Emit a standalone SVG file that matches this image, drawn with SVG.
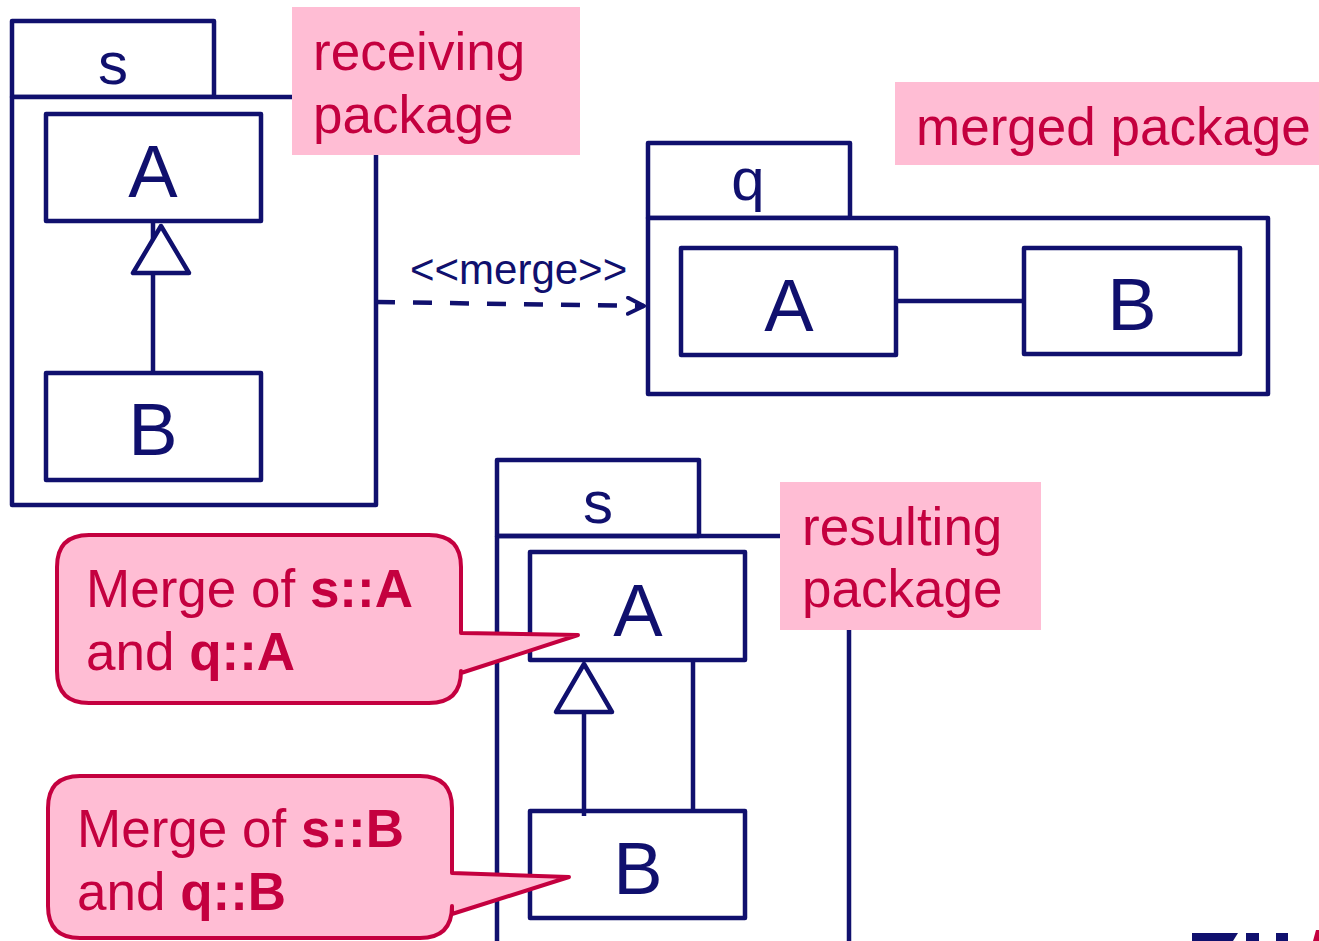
<svg xmlns="http://www.w3.org/2000/svg" width="1319" height="941" viewBox="0 0 1319 941">
  <style>
    .ln { fill: none; stroke: #10106E; stroke-width: 4.5; stroke-linejoin: round; }
    .box { fill: #FFFFFF; stroke: #10106E; stroke-width: 4.5; stroke-linejoin: round; }
    .big { font-family: "Liberation Sans", Arial, sans-serif; font-size: 74px; fill: #10106E; text-anchor: middle; }
    .pkg { font-family: "Liberation Sans", Arial, sans-serif; font-size: 60px; fill: #10106E; text-anchor: middle; }
    .note { fill: #FFBDD4; }
    .ntxt { font-family: "Liberation Sans", Arial, sans-serif; font-size: 53px; fill: #C4003F; }
    .call { fill: #FFBDD4; stroke: #C4003F; stroke-width: 4; stroke-linejoin: round; }
    .lbl { font-family: "Liberation Sans", Arial, sans-serif; font-size: 42px; fill: #10106E; }
  </style>
  <defs>
    <marker id="open" viewBox="0 0 20 20" refX="18" refY="10" markerWidth="20" markerHeight="20" markerUnits="userSpaceOnUse" orient="auto">
      <path d="M2,2 L18,10 L2,18" fill="none" stroke="#10106E" stroke-width="4" stroke-linecap="round" stroke-linejoin="round"/>
    </marker>
  </defs>

  <rect width="1319" height="941" fill="#FFFFFF"/>

  <!-- receiving package s -->
  <g id="pkg-s-receiving">
    <rect class="box" x="12" y="21" width="202" height="76"/>
    <rect class="box" x="12" y="97" width="364" height="408"/>
    <text class="pkg" x="113" y="84">s</text>
  </g>
  <g id="s-A">
    <rect class="box" x="46" y="114" width="215" height="107"/>
    <text class="big" x="153" y="197">A</text>
  </g>
  <g id="s-B">
    <rect class="box" x="46" y="373" width="215" height="107"/>
    <text class="big" x="153" y="455">B</text>
  </g>

  <!-- merged package q -->
  <g id="pkg-q">
    <rect class="box" x="648" y="143" width="202" height="75"/>
    <rect class="box" x="648" y="218" width="620" height="176"/>
    <text class="pkg" x="748" y="200">q</text>
  </g>
  <g id="q-A">
    <rect class="box" x="681" y="248" width="215" height="107"/>
    <text class="big" x="789" y="331">A</text>
  </g>
  <g id="q-B">
    <rect class="box" x="1024" y="248" width="216" height="106"/>
    <text class="big" x="1132" y="330">B</text>
  </g>

  <!-- resulting package s -->
  <g id="pkg-s-result">
    <rect class="box" x="497" y="460" width="202" height="76"/>
    <path class="ln" d="M497,536 V945 M497,536 H849 V945"/>
    <text class="pkg" x="598" y="523">s</text>
  </g>
  <g id="r-A">
    <rect class="box" x="530" y="552" width="215" height="108"/>
    <text class="big" x="638" y="636">A</text>
  </g>
  <g id="r-B">
    <rect class="box" x="530" y="811" width="215" height="107"/>
    <text class="big" x="638" y="894">B</text>
  </g>

  <!-- connectors -->
  <g id="connectors">
    <!-- s::B specialises s::A -->
    <line class="ln" x1="153" y1="221" x2="153" y2="373"/>
    <polygon class="box" points="161,226 133,273 189,273"/>
    <!-- q::A to q::B association -->
    <line class="ln" x1="896" y1="301" x2="1024" y2="301"/>
    <!-- package merge dependency -->
    <path class="ln" d="M376,302 L644,306" stroke-dasharray="19 18" marker-end="url(#open)"/>
    <text class="lbl" x="410" y="284">&lt;&lt;merge&gt;&gt;</text>
    <!-- resulting: generalisation and association -->
    <line class="ln" x1="584" y1="712" x2="584" y2="816"/>
    <polygon class="box" points="584,664 556,712 612,712"/>
    <line class="ln" x1="693" y1="660" x2="693" y2="811"/>
  </g>

  <!-- labels -->
  <g id="note-receiving">
    <rect class="note" x="292" y="7" width="288" height="148"/>
    <text class="ntxt" x="313" y="70">receiving</text>
    <text class="ntxt" x="313" y="133">package</text>
  </g>
  <g id="note-merged">
    <rect class="note" x="895" y="82" width="424" height="83"/>
    <text class="ntxt" x="916" y="145">merged package</text>
  </g>
  <g id="note-resulting">
    <rect class="note" x="780" y="482" width="261" height="148"/>
    <text class="ntxt" x="802" y="545">resulting</text>
    <text class="ntxt" x="802" y="607">package</text>
  </g>

  <!-- callouts -->
  <g id="callout-A">
    <path class="call" d="M89,535 H429 Q461,535 461,567 V633 L578,635 L461,673 V671 Q461,703 429,703 H89 Q57,703 57,671 V567 Q57,535 89,535 Z"/>
    <text class="ntxt" x="86" y="607">Merge of <tspan font-weight="bold">s::A</tspan></text>
    <text class="ntxt" x="86" y="670">and <tspan font-weight="bold">q::A</tspan></text>
  </g>
  <g id="callout-B">
    <path class="call" d="M80,776 H420 Q452,776 452,808 V873 L569,877 L452,914 V906 Q452,938 420,938 H80 Q48,938 48,906 V808 Q48,776 80,776 Z"/>
    <text class="ntxt" x="77" y="847">Merge of <tspan font-weight="bold">s::B</tspan></text>
    <text class="ntxt" x="77" y="910">and <tspan font-weight="bold">q::B</tspan></text>
  </g>

  <!-- corner mark -->
  <g id="corner-mark">
    <polygon points="1192,933 1238,933 1233,941 1192,941" fill="#10106E"/>
    <rect x="1246" y="933" width="13" height="8" fill="#10106E"/>
    <rect x="1276" y="933" width="12" height="8" fill="#10106E"/>
    <polygon points="1316,930 1319,930 1319,941 1313,941" fill="#C4003F"/>
  </g>
</svg>
